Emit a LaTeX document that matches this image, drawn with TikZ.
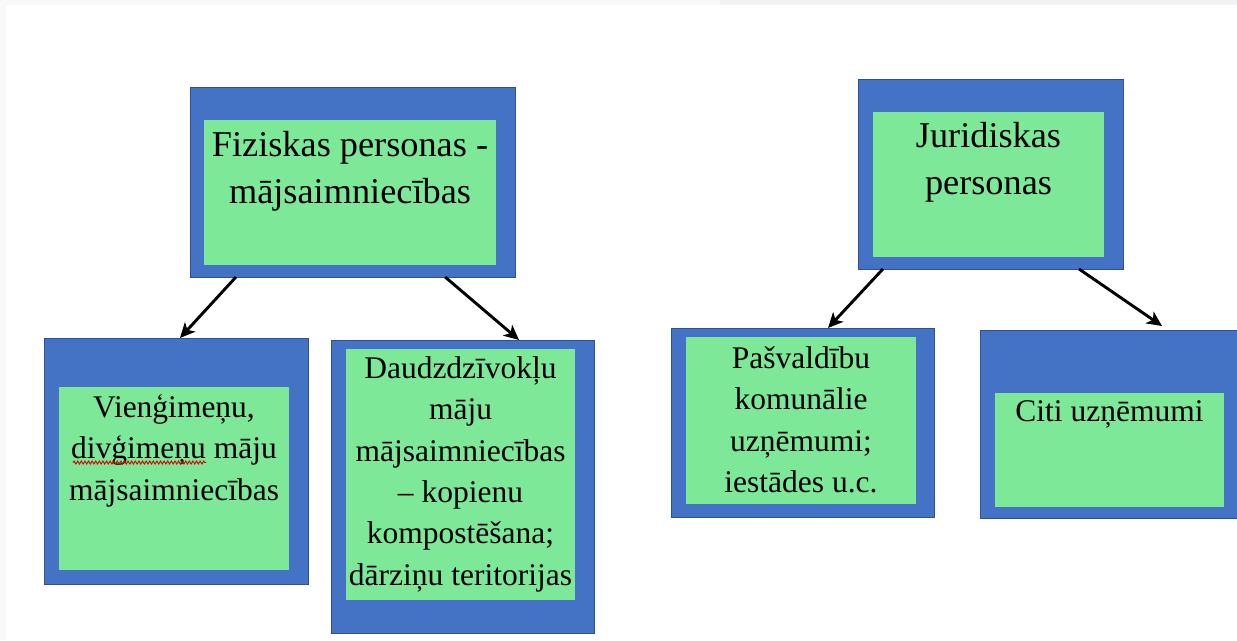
\documentclass[tikz,border=0pt]{standalone}
\usepackage{fontspec}
\setmainfont{Liberation Serif}
\usetikzlibrary{arrows.meta,calc,decorations.pathmorphing}
\definecolor{boxblue}{HTML}{4472C4}
\definecolor{boxedge}{HTML}{2F528F}
\definecolor{boxgreen}{HTML}{7DE897}
\definecolor{stripa}{HTML}{F8F8F8}
\definecolor{stripb}{HTML}{F2F2F2}
\newcommand\bigfl{\rule{0pt}{30pt}}
\newcommand\smallfl{\rule{0pt}{26pt}}
\begin{document}
\begin{tikzpicture}[x=1pt,y=-1pt,
  outerbox/.style={draw=boxedge,line width=0.9pt,fill=boxblue,inner sep=0pt,outer sep=0pt},
  innerbox/.style={fill=boxgreen,inner sep=0pt,outer sep=0pt},
  bigtext/.style={font=\fontsize{36.3}{47.5}\selectfont,align=center,inner sep=0pt,anchor=north},
  smalltext/.style={font=\fontsize{31.5}{41.4}\selectfont,align=center,inner sep=0pt,anchor=north},
  arr/.style={line width=2.9pt,draw=black,-{Stealth[length=15pt,width=14pt,inset=4pt]}}]
\useasboundingbox (0,0) rectangle (1237,640);
\fill[white] (0,0) rectangle (1237,640);
\fill[stripa] (0,0) rectangle (720,5);
\fill[stripb] (720,0) rectangle (1237,5);
\fill[stripa] (0,0) rectangle (6,640);

% top-left box
\node[outerbox,minimum width=325pt,minimum height=190pt] (b1) at (352.5,182) {};
\node[innerbox,minimum width=292pt,minimum height=145pt] (g1) at (350,192.5) {};
\node[bigtext] (t1) at (350,126) {\bigfl Fiziskas personas -\\mājsaimniecības};

% bottom-left box
\node[outerbox,minimum width=264pt,minimum height=246pt] (b2) at (176,461) {};
\node[innerbox,minimum width=230pt,minimum height=183pt] (g2) at (174,478.5) {};
\node[smalltext] (t2) at (174,391) {\smallfl Vienģimeņu,\\divģimeņu māju\\mājsaimniecības};
\draw[red!85!black,line width=0.9pt,decorate,decoration={snake,amplitude=1.5pt,segment length=3.6pt}] (73,462.5) -- (206,462.5);

% bottom-middle box
\node[outerbox,minimum width=263pt,minimum height=293pt] (b3) at (462.5,486.5) {};
\node[innerbox,minimum width=229pt,minimum height=251pt] (g3) at (460.5,474.5) {};
\node[smalltext] (t3) at (460.5,352) {\smallfl Daudzdzīvokļu\\māju\\mājsaimniecības\\– kopienu\\kompostēšana;\\dārziņu teritorijas};

% top-right box
\node[outerbox,minimum width=265pt,minimum height=190pt] (b4) at (990.5,174) {};
\node[innerbox,minimum width=231pt,minimum height=145pt] (g4) at (988.5,184.5) {};
\node[bigtext] (t4) at (988.5,117) {\bigfl Juridiskas\\personas};

% bottom-right-left box
\node[outerbox,minimum width=263pt,minimum height=189pt] (b5) at (802.5,422.5) {};
\node[innerbox,minimum width=230pt,minimum height=167pt] (g5) at (801,420.5) {};
\node[smalltext] (t5) at (801,342) {\smallfl Pašvaldību\\komunālie\\uzņēmumi;\\iestādes u.c.};

% bottom-right box
\node[outerbox,minimum width=265pt,minimum height=188pt] (b6) at (1112.5,424) {};
\node[innerbox,minimum width=229pt,minimum height=114pt] (g6) at (1109.5,450) {};
\node[smalltext] (t6) at (1109.5,395) {\smallfl Citi uzņēmumi};

% arrows
\draw[arr] ($(b1.south west)!0.1415!(b1.south east)$) -- ($(b2.north west)!0.515!(b2.north east)$);
\draw[arr] ($(b1.south west)!0.785!(b1.south east)$) -- ($(b3.north west)!0.715!(b3.north east)$);
\draw[arr] ($(b4.south west)!0.094!(b4.south east)$) -- ($(b5.north west)!0.597!(b5.north east)$);
\draw[arr] ($(b4.south west)!0.834!(b4.south east)$) -- ($(b6.north west)!0.687!(b6.north east)+(0,-4)$);
\end{tikzpicture}
\end{document}
